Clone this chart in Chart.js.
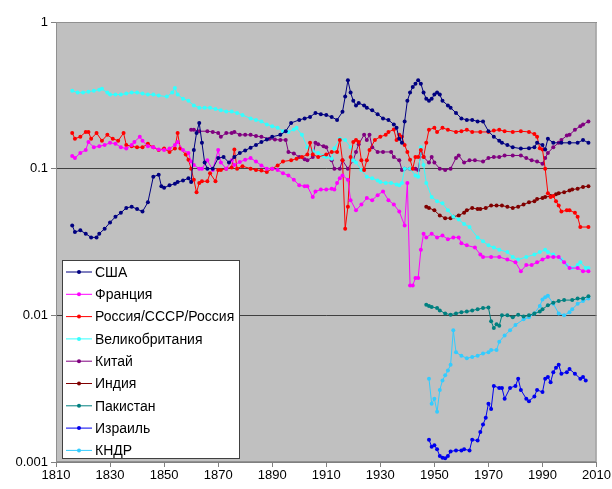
<!DOCTYPE html>
<html>
<head>
<meta charset="utf-8">
<script src="https://cdn.jsdelivr.net/npm/chart.js@4/dist/chart.umd.min.js"></script>
<style>
  body { margin: 0; background: #fff; }
  #wrap { width: 612px; height: 489px; }
</style>
</head>
<body>
<div id="wrap"><canvas id="chart" width="612" height="489"></canvas></div>
<script>
// ---------- data (year, share) ----------
const xTicks = [1810, 1830, 1850, 1870, 1890, 1910, 1930, 1950, 1970, 1990, 2010];
const yTicks = [0.001, 0.01, 0.1, 1];

const usa = [[1816,0.041],[1817,0.037],[1819,0.038],[1821,0.036],[1823,0.034],[1825,0.034],[1826,0.036],[1828,0.039],[1830,0.043],[1832,0.047],[1834,0.05],[1836,0.054],[1838,0.055],[1840,0.053],[1842,0.051],[1844,0.059],[1846,0.088],[1848,0.091],[1849,0.076],[1850,0.074],[1852,0.077],[1854,0.079],[1855,0.081],[1857,0.083],[1859,0.086],[1860,0.081],[1861,0.134],[1862,0.175],[1863,0.205],[1864,0.15],[1865,0.11],[1866,0.1],[1868,0.1],[1870,0.118],[1872,0.12],[1874,0.11],[1876,0.12],[1878,0.128],[1880,0.133],[1882,0.139],[1884,0.145],[1886,0.152],[1888,0.158],[1890,0.165],[1893,0.17],[1895,0.18],[1897,0.205],[1900,0.215],[1902,0.22],[1904,0.225],[1906,0.24],[1908,0.235],[1910,0.232],[1912,0.225],[1914,0.215],[1916,0.244],[1917,0.31],[1918,0.4],[1919,0.33],[1920,0.29],[1921,0.27],[1922,0.28],[1924,0.27],[1925,0.26],[1927,0.25],[1929,0.235],[1931,0.22],[1933,0.215],[1935,0.2],[1936,0.19],[1937,0.16],[1938,0.15],[1939,0.21],[1940,0.29],[1941,0.33],[1942,0.36],[1943,0.38],[1944,0.4],[1945,0.38],[1946,0.33],[1947,0.3],[1948,0.29],[1949,0.3],[1950,0.32],[1951,0.33],[1952,0.32],[1953,0.29],[1955,0.27],[1956,0.26],[1958,0.24],[1960,0.22],[1962,0.215],[1964,0.215],[1966,0.21],[1968,0.21],[1970,0.18],[1972,0.165],[1974,0.155],[1975,0.15],[1977,0.145],[1979,0.14],[1982,0.137],[1985,0.138],[1987,0.14],[1988,0.15],[1990,0.145],[1991,0.135],[1992,0.16],[1994,0.15],[1997,0.15],[2000,0.15],[2003,0.15],[2005,0.157],[2007,0.15]];

const france = [[1816,0.122],[1817,0.118],[1819,0.128],[1821,0.134],[1822,0.152],[1824,0.14],[1826,0.142],[1828,0.145],[1830,0.15],[1832,0.148],[1834,0.14],[1836,0.137],[1838,0.145],[1839,0.152],[1841,0.165],[1842,0.155],[1844,0.142],[1846,0.14],[1848,0.135],[1850,0.134],[1852,0.137],[1854,0.145],[1855,0.152],[1857,0.134],[1859,0.128],[1860,0.112],[1861,0.106],[1863,0.1],[1864,0.1],[1866,0.114],[1868,0.098],[1870,0.134],[1871,0.11],[1873,0.1],[1875,0.114],[1876,0.106],[1878,0.111],[1880,0.115],[1882,0.118],[1884,0.112],[1886,0.105],[1888,0.1],[1890,0.1],[1892,0.098],[1894,0.093],[1896,0.09],[1898,0.084],[1900,0.077],[1902,0.076],[1903,0.076],[1905,0.064],[1906,0.07],[1908,0.072],[1910,0.072],[1912,0.073],[1913,0.072],[1914,0.08],[1915,0.086],[1916,0.09],[1918,0.084],[1919,0.061],[1921,0.052],[1923,0.057],[1925,0.063],[1927,0.061],[1929,0.066],[1931,0.07],[1933,0.061],[1935,0.057],[1937,0.051],[1939,0.041],[1940,0.08],[1941,0.016],[1942,0.016],[1943,0.018],[1944,0.018],[1945,0.028],[1946,0.036],[1947,0.034],[1949,0.036],[1951,0.034],[1953,0.035],[1955,0.033],[1957,0.034],[1959,0.034],[1960,0.031],[1962,0.03],[1965,0.029],[1967,0.026],[1968,0.025],[1971,0.025],[1974,0.025],[1977,0.024],[1980,0.023],[1982,0.02],[1984,0.022],[1986,0.022],[1988,0.023],[1990,0.024],[1992,0.025],[1994,0.025],[1996,0.025],[1998,0.023],[2000,0.021],[2003,0.021],[2005,0.02],[2007,0.02]];

const russia = [[1816,0.175],[1817,0.16],[1819,0.165],[1821,0.178],[1822,0.178],[1823,0.16],[1825,0.175],[1827,0.155],[1829,0.17],[1831,0.16],[1833,0.155],[1835,0.175],[1836,0.145],[1838,0.142],[1840,0.14],[1842,0.14],[1844,0.148],[1846,0.14],[1848,0.134],[1850,0.137],[1852,0.13],[1854,0.137],[1855,0.175],[1856,0.137],[1858,0.125],[1859,0.115],[1860,0.1],[1861,0.084],[1862,0.069],[1863,0.08],[1864,0.082],[1866,0.082],[1867,0.093],[1869,0.082],[1870,0.098],[1871,0.098],[1873,0.1],[1875,0.102],[1876,0.135],[1877,0.1],[1879,0.104],[1882,0.1],[1884,0.098],[1886,0.097],[1888,0.095],[1890,0.1],[1892,0.105],[1894,0.112],[1897,0.114],[1899,0.117],[1901,0.12],[1903,0.125],[1904,0.15],[1905,0.125],[1907,0.12],[1910,0.125],[1912,0.13],[1914,0.13],[1915,0.157],[1916,0.114],[1917,0.039],[1918,0.055],[1919,0.12],[1920,0.152],[1921,0.157],[1922,0.152],[1923,0.114],[1924,0.098],[1925,0.114],[1926,0.134],[1928,0.157],[1930,0.165],[1932,0.17],[1933,0.178],[1935,0.185],[1936,0.157],[1937,0.17],[1938,0.165],[1939,0.145],[1940,0.13],[1941,0.115],[1942,0.1],[1943,0.12],[1944,0.12],[1945,0.134],[1946,0.12],[1947,0.15],[1948,0.184],[1950,0.19],[1951,0.178],[1953,0.19],[1955,0.184],[1958,0.178],[1960,0.18],[1962,0.184],[1964,0.178],[1967,0.178],[1970,0.178],[1972,0.182],[1974,0.184],[1976,0.18],[1979,0.178],[1982,0.18],[1985,0.178],[1987,0.172],[1988,0.165],[1989,0.138],[1990,0.135],[1991,0.1],[1992,0.068],[1993,0.064],[1994,0.065],[1995,0.06],[1996,0.056],[1997,0.051],[1999,0.052],[2000,0.052],[2002,0.05],[2003,0.047],[2004,0.04],[2007,0.04]];

const britain = [[1816,0.34],[1818,0.33],[1820,0.33],[1822,0.335],[1824,0.34],[1826,0.345],[1827,0.35],[1829,0.33],[1830,0.32],[1832,0.32],[1834,0.32],[1836,0.325],[1838,0.33],[1840,0.33],[1842,0.325],[1844,0.32],[1846,0.32],[1848,0.315],[1851,0.31],[1853,0.33],[1854,0.355],[1855,0.32],[1857,0.3],[1859,0.29],[1861,0.27],[1863,0.26],[1865,0.26],[1867,0.26],[1869,0.255],[1871,0.25],[1873,0.245],[1875,0.245],[1877,0.24],[1879,0.232],[1882,0.22],[1884,0.215],[1886,0.21],[1888,0.2],[1890,0.195],[1892,0.19],[1894,0.18],[1896,0.178],[1898,0.185],[1899,0.19],[1901,0.17],[1903,0.14],[1905,0.132],[1907,0.128],[1909,0.122],[1910,0.12],[1912,0.117],[1913,0.138],[1915,0.16],[1917,0.157],[1919,0.14],[1920,0.114],[1921,0.11],[1923,0.098],[1925,0.088],[1927,0.086],[1929,0.083],[1930,0.081],[1932,0.08],[1934,0.08],[1936,0.078],[1937,0.077],[1938,0.08],[1939,0.1],[1941,0.1],[1943,0.09],[1944,0.088],[1945,0.14],[1946,0.106],[1947,0.08],[1949,0.064],[1951,0.06],[1953,0.058],[1955,0.052],[1957,0.047],[1959,0.045],[1961,0.042],[1963,0.04],[1966,0.034],[1968,0.032],[1970,0.03],[1972,0.029],[1974,0.028],[1977,0.027],[1979,0.025],[1981,0.024],[1984,0.025],[1987,0.026],[1989,0.027],[1991,0.028],[1992,0.027],[1994,0.026],[1997,0.024],[1999,0.022],[2001,0.021],[2003,0.022],[2004,0.023],[2006,0.021],[2007,0.021]];

const china = [[1860,0.184],[1861,0.184],[1863,0.18],[1866,0.18],[1868,0.178],[1870,0.175],[1871,0.165],[1873,0.175],[1875,0.175],[1876,0.178],[1878,0.17],[1880,0.17],[1882,0.17],[1884,0.167],[1886,0.165],[1889,0.16],[1891,0.158],[1893,0.157],[1895,0.157],[1896,0.13],[1898,0.127],[1900,0.12],[1902,0.116],[1903,0.114],[1905,0.12],[1906,0.15],[1907,0.147],[1909,0.142],[1910,0.14],[1912,0.114],[1913,0.1],[1915,0.1],[1916,0.114],[1918,0.1],[1920,0.114],[1921,0.13],[1922,0.147],[1924,0.17],[1925,0.157],[1926,0.17],[1927,0.14],[1929,0.13],[1931,0.13],[1934,0.13],[1935,0.12],[1937,0.114],[1938,0.098],[1939,0.1],[1941,0.1],[1943,0.1],[1944,0.098],[1945,0.128],[1946,0.12],[1948,0.11],[1949,0.12],[1950,0.11],[1952,0.1],[1954,0.098],[1956,0.1],[1958,0.118],[1959,0.123],[1961,0.11],[1963,0.114],[1965,0.114],[1968,0.112],[1970,0.118],[1972,0.12],[1974,0.12],[1976,0.123],[1979,0.123],[1982,0.123],[1984,0.118],[1986,0.114],[1988,0.112],[1990,0.108],[1991,0.118],[1992,0.128],[1994,0.14],[1996,0.15],[1997,0.157],[1999,0.168],[2000,0.17],[2002,0.184],[2004,0.195],[2005,0.2],[2007,0.21]];

const india = [[1947,0.055],[1948,0.054],[1950,0.052],[1952,0.048],[1954,0.046],[1956,0.046],[1957,0.047],[1959,0.048],[1961,0.05],[1962,0.052],[1964,0.054],[1966,0.053],[1967,0.053],[1969,0.054],[1971,0.056],[1973,0.056],[1975,0.056],[1977,0.055],[1979,0.054],[1981,0.055],[1983,0.057],[1985,0.059],[1987,0.06],[1988,0.062],[1990,0.063],[1991,0.064],[1993,0.065],[1995,0.067],[1996,0.068],[1998,0.069],[2000,0.071],[2001,0.072],[2003,0.073],[2005,0.075],[2007,0.076]];

const pakistan = [[1947,0.0118],[1948,0.0116],[1949,0.0114],[1951,0.0112],[1952,0.0108],[1954,0.0103],[1956,0.0101],[1958,0.0103],[1960,0.0105],[1962,0.0106],[1964,0.0108],[1966,0.011],[1968,0.0112],[1970,0.0113],[1971,0.0091],[1972,0.0082],[1973,0.0087],[1974,0.0085],[1975,0.01],[1977,0.01],[1979,0.0097],[1981,0.0101],[1983,0.0098],[1985,0.01],[1987,0.0103],[1989,0.0106],[1990,0.011],[1992,0.0117],[1994,0.0122],[1996,0.0125],[1998,0.0127],[2001,0.0127],[2003,0.013],[2005,0.013],[2007,0.0135]];

const israel = [[1948,0.00142],[1949,0.00127],[1950,0.0013],[1951,0.00122],[1952,0.0011],[1953,0.00107],[1954,0.00106],[1955,0.0011],[1956,0.00118],[1958,0.0012],[1960,0.0012],[1961,0.00122],[1963,0.0012],[1964,0.00142],[1966,0.0014],[1967,0.0016],[1968,0.0018],[1969,0.002],[1970,0.0025],[1971,0.0023],[1972,0.0033],[1974,0.0032],[1975,0.0032],[1976,0.0027],[1978,0.0032],[1980,0.0033],[1981,0.0037],[1982,0.0031],[1984,0.0027],[1985,0.0026],[1987,0.0028],[1988,0.0031],[1990,0.003],[1991,0.0037],[1992,0.0038],[1993,0.0035],[1994,0.0041],[1995,0.0044],[1996,0.0046],[1997,0.004],[1999,0.0041],[2000,0.0043],[2002,0.004],[2004,0.0037],[2005,0.0038],[2006,0.0036]];

const dprk = [[1948,0.0037],[1949,0.0025],[1950,0.0027],[1951,0.0022],[1952,0.0031],[1953,0.0036],[1954,0.0039],[1955,0.0042],[1956,0.0046],[1957,0.0079],[1958,0.0056],[1960,0.0053],[1962,0.0051],[1964,0.0052],[1966,0.0053],[1968,0.0055],[1970,0.0056],[1971,0.0058],[1973,0.0058],[1974,0.0066],[1976,0.0073],[1978,0.0079],[1980,0.0086],[1983,0.0094],[1985,0.0097],[1987,0.0103],[1989,0.0116],[1990,0.0128],[1991,0.0133],[1992,0.0136],[1994,0.012],[1996,0.0103],[1998,0.01],[2000,0.0105],[2001,0.011],[2003,0.012],[2005,0.0125],[2007,0.013]];

const labels = ['США', 'Франция', 'Россия/СССР/Россия', 'Великобритания', 'Китай', 'Индия', 'Пакистан', 'Израиль', 'КНДР'];
const colors = ['#000080', '#ff00ff', '#ff0000', '#33ffff', '#800080', '#800000', '#008080', '#0000ee', '#33ccff'];
const series = [usa, france, russia, britain, china, india, pakistan, israel, dprk];

// ---------- plugins ----------
const plotBg = {
  id: 'plotBg',
  beforeDraw(chart) {
    const { ctx, chartArea: a } = chart;
    ctx.save();
    ctx.fillStyle = '#c0c0c0';
    ctx.fillRect(a.left, a.top, a.right - a.left, a.bottom - a.top);
    ctx.restore();
  },
  beforeDatasetsDraw(chart) {
    const { ctx, chartArea: a } = chart;
    ctx.save();
    ctx.strokeStyle = '#909090';
    ctx.lineWidth = 1;
    ctx.strokeRect(a.left + 0.5, a.top + 0.5, a.right - a.left - 1, a.bottom - a.top - 1);
    ctx.restore();
  }
};

const boxLegend = {
  id: 'boxLegend',
  afterDraw(chart) {
    const ctx = chart.ctx;
    const x0 = 62, y0 = 260, w = 177, h = 198;
    ctx.save();
    ctx.fillStyle = '#fff';
    ctx.fillRect(x0, y0, w, h);
    ctx.strokeStyle = '#404040';
    ctx.lineWidth = 1;
    ctx.strokeRect(x0 + 0.5, y0 + 0.5, w, h);
    ctx.font = '14px Arial, "Liberation Sans", sans-serif';
    ctx.textBaseline = 'middle';
    chart.data.datasets.forEach((ds, i) => {
      const y = 272 + i * 22.3;
      ctx.strokeStyle = ds.borderColor;
      ctx.beginPath();
      ctx.moveTo(66, y);
      ctx.lineTo(92, y);
      ctx.stroke();
      ctx.fillStyle = ds.borderColor;
      ctx.beginPath();
      ctx.arc(79, y, 2, 0, Math.PI * 2);
      ctx.fill();
      ctx.fillStyle = '#000';
      ctx.fillText(ds.label, 95, y + 1);
    });
    ctx.restore();
  }
};

// ---------- chart ----------
const tickFont = { family: 'Arial, "Liberation Sans", sans-serif', size: 13 };

new Chart(document.getElementById('chart'), {
  type: 'line',
  data: {
    datasets: series.map((s, i) => ({
      label: labels[i],
      data: s.map(p => ({ x: p[0], y: p[1] })),
      borderColor: colors[i],
      backgroundColor: colors[i],
      borderWidth: 1,
      pointRadius: 2,
      pointHoverRadius: 2,
      pointBorderWidth: 0,
      tension: 0,
      fill: false
    }))
  },
  options: {
    responsive: false,
    animation: false,
    layout: { padding: { top: 22, right: 15, left: 0, bottom: 0 } },
    plugins: { legend: { display: false }, tooltip: { enabled: false } },
    scales: {
      x: {
        type: 'linear',
        min: 1810,
        max: 2010,
        afterBuildTicks: (s) => { s.ticks = xTicks.map(v => ({ value: v })); },
        afterFit: (s) => { s.height = 27; },
        ticks: { color: '#000', font: tickFont, padding: 1, maxRotation: 0, callback: v => String(v) },
        grid: { drawOnChartArea: false, tickLength: 5, color: '#808080' },
        border: { color: '#808080' }
      },
      y: {
        type: 'logarithmic',
        min: 0.001,
        max: 1,
        afterBuildTicks: (s) => { s.ticks = yTicks.map(v => ({ value: v })); },
        afterFit: (s) => { s.width = 56; },
        ticks: { color: '#000', font: tickFont, padding: 3, callback: v => String(v) },
        grid: { color: '#404040', tickLength: 5, tickColor: '#808080' },
        border: { color: '#808080' }
      }
    }
  },
  plugins: [plotBg, boxLegend]
});
</script>
</body>
</html>
